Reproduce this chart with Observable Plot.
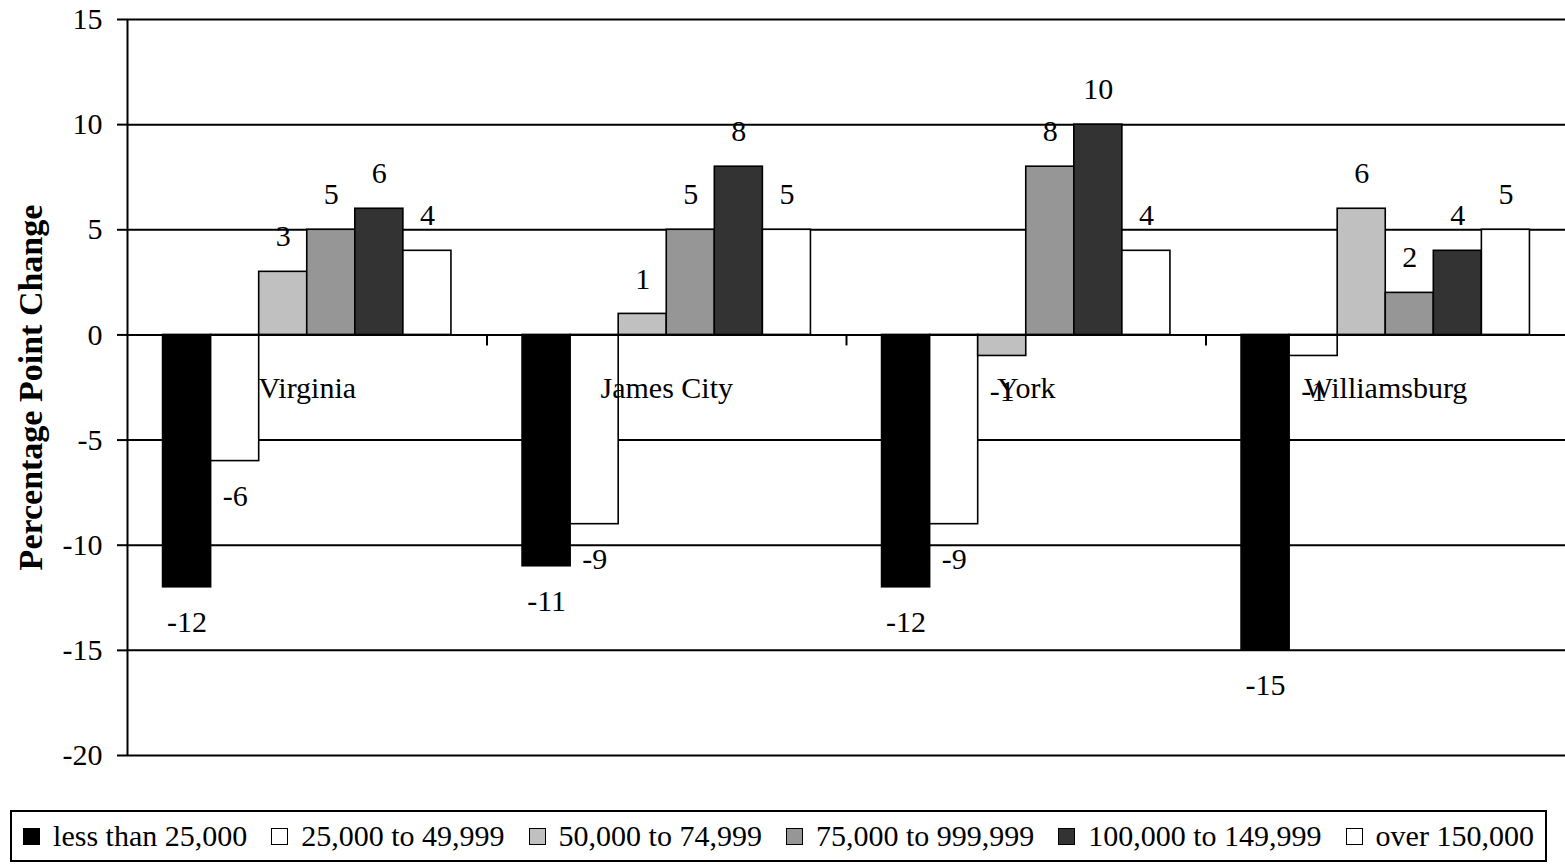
<!DOCTYPE html>
<html>
<head>
<meta charset="utf-8">
<script src="https://cdn.jsdelivr.net/npm/d3@7"></script>
<script src="https://cdn.jsdelivr.net/npm/@observablehq/plot@0.6"></script>
<style>
  body { margin: 0; background: #fff; font-family: "Liberation Serif", serif; }
  #chart { position: absolute; left: 0; top: 0; }
  #chart svg text { font-family: "Liberation Serif", serif; }
  #legend {
    position: absolute; left: 10px; top: 810px; width: 1537px; height: 52px;
    box-sizing: border-box; border: 2px solid #000;
    display: flex; align-items: center; justify-content: center;
    font-size: 30px; white-space: nowrap; color: #000;
  }
  .item { display: flex; align-items: center; margin: 0 12px; }
  .sw { width: 17px; height: 17px; box-sizing: border-box; border: 1.5px solid #000; margin-right: 13px; }
</style>
</head>
<body>
<div id="chart"></div>
<div id="legend"></div>
<script>
// ---- data ----
const groups = ["Virginia", "James City", "York", "Williamsburg"];
const series = ["less than 25,000", "25,000 to 49,999", "50,000 to 74,999", "75,000 to 999,999", "100,000 to 149,999", "over 150,000"];
const virginia     = [-12, -6,  3, 5,  6, 4];
const jamesCity    = [-11, -9,  1, 5,  8, 5];
const york         = [-12, -9, -1, 8, 10, 4];
const williamsburg = [-15, -1,  6, 2,  4, 5];
const seriesColors = ["#000000", "#ffffff", "#c0c0c0", "#969696", "#333333", "#ffffff"];
const yTicks = [-20, -15, -10, -5, 0, 5, 10, 15];
const yLabel = "Percentage Point Change";

// ---- build table ----
const valuesByGroup = [virginia, jamesCity, york, williamsburg];
const band = d3.scaleBand().domain(series).range([0, 1]).paddingInner(0).paddingOuter(0.74);
const rows = [];
groups.forEach((g, gi) => {
  series.forEach((s, si) => {
    const x1 = gi + band(s);
    rows.push({group: g, series: s, value: valuesByGroup[gi][si], x1, x2: x1 + band.bandwidth(), xm: x1 + band.bandwidth() / 2});
  });
});
const groupRows = groups.map((g, gi) => ({group: g, xm: gi + 0.5}));
const boundaries = d3.range(1, groups.length);

const font = '"Liberation Serif", serif';

const chart = Plot.plot({
  width: 1565,
  height: 790,
  marginLeft: 127,
  marginRight: 0,
  marginTop: 19,
  marginBottom: 35,
  style: {fontFamily: font, fontSize: "30px", color: "#000", background: "#fff", overflow: "visible"},
  x: {domain: [0, groups.length], axis: null},
  y: {domain: [-20, 15], axis: null},
  color: {domain: series, range: seriesColors},
  marks: [
    Plot.ruleY(yTicks, {stroke: "#000", strokeWidth: 2}),
    Plot.rectY(rows, {x1: "x1", x2: "x2", y1: 0, y2: "value", fill: "series", stroke: "#000", strokeWidth: 1.6}),
    Plot.ruleY([0], {stroke: "#000", strokeWidth: 2}),
    Plot.ruleX([0], {stroke: "#000", strokeWidth: 2}),
    Plot.ruleX(boundaries, {y1: 0, y2: 0, insetBottom: -11, stroke: "#000", strokeWidth: 2}),
    Plot.axisY({ticks: yTicks, tickSize: 10, tickPadding: 15, tickFormat: d => String(d), fontSize: 30, label: null, strokeWidth: 2}),
    Plot.text(rows.filter(d => d.value >= 0), {x: "xm", y: "value", text: d => String(d.value), dy: -35, fontSize: 30, fill: "#000"}),
    Plot.text(rows.filter(d => d.value < 0), {x: "xm", y: "value", text: d => String(d.value), dy: 35, fontSize: 30, fill: "#000"}),
    Plot.text(groupRows, {x: "xm", y: () => 0, text: "group", dy: 53, fontSize: 30, fill: "#000"}),
    Plot.text([yLabel], {frameAnchor: "left", textAnchor: "middle", text: d => d, rotate: -90, dx: -96, fontSize: 34, fontWeight: "bold", fill: "#000", style: "letter-spacing:3px"})
  ]
});
document.getElementById("chart").appendChild(chart);

// ---- legend ----
const legend = d3.select("#legend");
series.forEach((s, i) => {
  const item = legend.append("div").attr("class", "item");
  item.append("div").attr("class", "sw").style("background", seriesColors[i]);
  item.append("span").text(s);
});
</script>
</body>
</html>
